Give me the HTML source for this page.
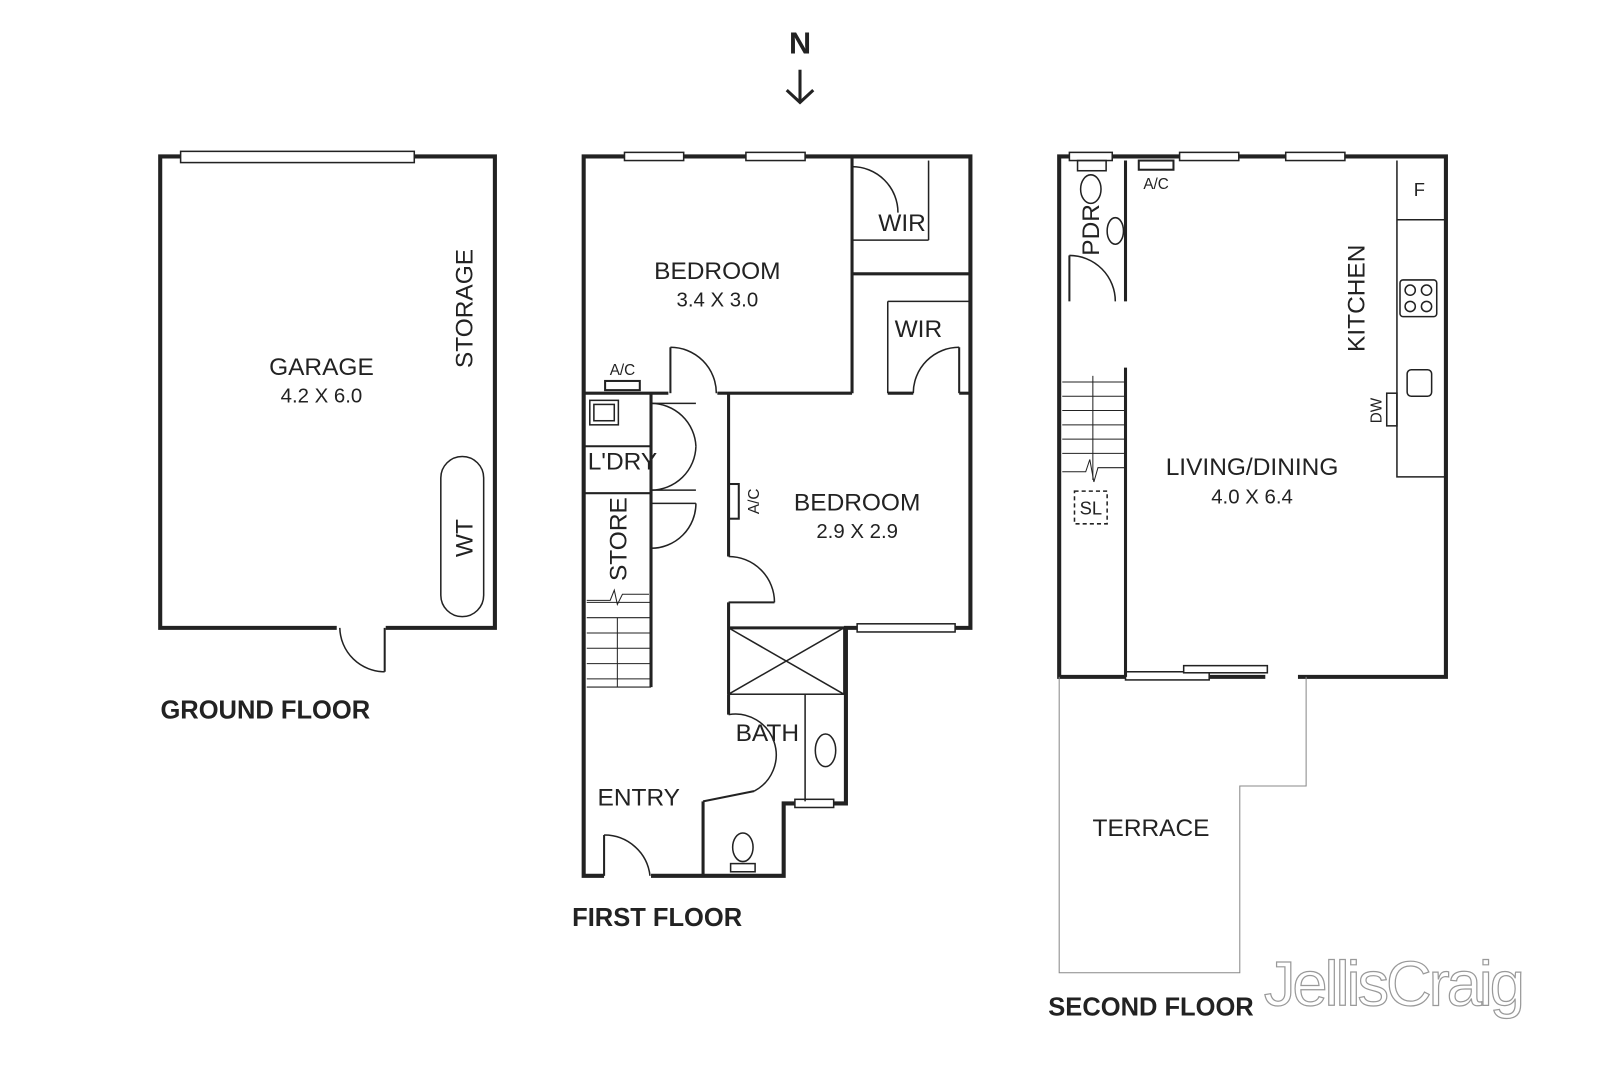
<!DOCTYPE html>
<html><head><meta charset="utf-8"><style>
html,body{margin:0;padding:0;background:#fff;width:1600px;height:1067px;overflow:hidden}
svg{display:block}
text{font-family:"Liberation Sans",sans-serif;fill:#222}
</style></head><body>
<svg width="1600" height="1067" viewBox="0 0 1568 1045" xmlns="http://www.w3.org/2000/svg">
<g fill="none" stroke="#222" stroke-width="1.5">
<line x1="784" y1="68" x2="784" y2="100" stroke-width="3"/>
<polyline points="771,88 784,100 797,88" stroke-width="3"/>

<polyline points="330,615 157,615 157,153 485,153 485,615 378,615" stroke-width="4"/>
<rect x="177" y="148" width="229" height="11" fill="#fff"/>
<line x1="377" y1="615" x2="377" y2="658" stroke-width="2"/>
<path d="M333,615 A44,44 0 0 0 377,658"/>
<rect x="432" y="447" width="42" height="157" rx="21"/>

<polyline points="592,858 572,858 572,153 951,153 951,615 829,615 829,787 768,787 768,858 638,858" stroke-width="4"/>
<rect x="612" y="149" width="58" height="8" fill="#fff"/>
<rect x="731" y="149" width="58" height="8" fill="#fff"/>
<rect x="840" y="611" width="96" height="8" fill="#fff"/>
<rect x="779" y="783" width="38" height="8" fill="#fff"/>
<line x1="835" y1="153" x2="835" y2="385" stroke-width="3"/>
<line x1="835" y1="268" x2="951" y2="268" stroke-width="3"/>
<line x1="835" y1="235" x2="910" y2="235"/><line x1="910" y1="157" x2="910" y2="235"/>
<path d="M835,163 A45,45 0 0 1 880,208"/>
<line x1="870" y1="295" x2="951" y2="295"/><line x1="870" y1="295" x2="870" y2="385"/>
<path d="M895,385 A45,45 0 0 1 940,340"/><line x1="940" y1="340" x2="940" y2="385" stroke-width="2"/>
<line x1="572" y1="385" x2="655" y2="385" stroke-width="3"/>
<line x1="703" y1="385" x2="835" y2="385" stroke-width="3"/>
<line x1="870" y1="385" x2="895" y2="385" stroke-width="3"/>
<line x1="940" y1="385" x2="951" y2="385" stroke-width="3"/>
<line x1="657" y1="340" x2="657" y2="385" stroke-width="2"/>
<path d="M657,340 A45,45 0 0 1 702,385"/>
<rect x="593" y="373" width="34" height="9" stroke-width="2"/>
<line x1="714" y1="385" x2="714" y2="545" stroke-width="3"/>
<line x1="714" y1="590" x2="714" y2="680" stroke-width="3"/>
<path d="M714,545 A45,45 0 0 1 759,590" /><line x1="714" y1="590" x2="759" y2="590" stroke-width="2"/>
<rect x="714" y="474" width="10" height="34" stroke-width="2"/>
<line x1="638" y1="385" x2="638" y2="673" stroke-width="3"/>
<rect x="578" y="392" width="28" height="24"/>
<rect x="582" y="396" width="20" height="16"/>
<line x1="572" y1="437" x2="638" y2="437" stroke-width="2"/>
<line x1="572" y1="483" x2="638" y2="483" stroke-width="2"/>
<line x1="638" y1="395" x2="682" y2="395"/><path d="M638,395 A44,44 0 0 1 682,437"/>
<line x1="638" y1="480" x2="682" y2="480"/><path d="M682,437 A44,44 0 0 1 638,480"/>
<line x1="638" y1="493" x2="682" y2="493"/><path d="M682,493 A44,44 0 0 1 638,537"/>
<g stroke-width="1">
<line x1="575" y1="605" x2="638" y2="605"/><line x1="575" y1="620" x2="638" y2="620"/>
<line x1="575" y1="635" x2="638" y2="635"/><line x1="575" y1="650" x2="638" y2="650"/>
<line x1="575" y1="665" x2="638" y2="665"/><line x1="575" y1="673" x2="638" y2="673"/>
<line x1="575" y1="590" x2="638" y2="590"/>
<line x1="605" y1="605" x2="605" y2="673"/>
<polyline points="575,588 598,588 602,578 605,592 610,582 636,582"/>
</g>
<line x1="714" y1="615" x2="829" y2="615" stroke-width="3"/>
<rect x="714" y="615" width="113" height="65"/>
<line x1="714" y1="615" x2="827" y2="680"/><line x1="827" y1="615" x2="714" y2="680"/>
<line x1="789" y1="680" x2="789" y2="785"/>
<ellipse cx="809" cy="735" rx="10" ry="16"/>
<line x1="714" y1="680" x2="714" y2="700" stroke-width="3"/>
<path d="M714,700 A40,40 0 0 1 739,775"/>
<line x1="739" y1="775" x2="689" y2="785" stroke-width="2"/>
<line x1="689" y1="785" x2="689" y2="858" stroke-width="3"/>
<ellipse cx="728" cy="830" rx="10" ry="14"/>
<rect x="716" y="846" width="24" height="8"/>
<line x1="592" y1="818" x2="592" y2="858" stroke-width="2"/>
<path d="M592,818 A45,45 0 0 1 637,858"/>

<polyline points="1103,663 1038,663 1038,153 1417,153 1417,663 1272,663" stroke-width="4"/>
<line x1="1185" y1="663" x2="1240" y2="663" stroke-width="4"/>
<rect x="1103" y="658" width="82" height="8" fill="#fff"/>
<rect x="1160" y="652" width="82" height="7" fill="#fff"/>
<rect x="1048" y="149" width="42" height="8" fill="#fff"/>
<rect x="1156" y="149" width="58" height="8" fill="#fff"/>
<rect x="1260" y="149" width="58" height="8" fill="#fff"/>
<rect x="1116" y="157" width="34" height="9" stroke-width="2"/>
<line x1="1103" y1="157" x2="1103" y2="295" stroke-width="3"/>
<line x1="1103" y1="360" x2="1103" y2="663" stroke-width="3"/>
<line x1="1048" y1="250" x2="1048" y2="295" stroke-width="2"/>
<path d="M1048,250 A45,45 0 0 1 1093,295"/>
<ellipse cx="1069" cy="185" rx="10" ry="14"/><rect x="1056" y="157" width="28" height="10"/>
<ellipse cx="1093" cy="226" rx="8" ry="13"/>
<g stroke-width="1">
<line x1="1041" y1="374" x2="1103" y2="374"/><line x1="1041" y1="388" x2="1103" y2="388"/>
<line x1="1041" y1="402" x2="1103" y2="402"/><line x1="1041" y1="416" x2="1103" y2="416"/>
<line x1="1041" y1="430" x2="1103" y2="430"/><line x1="1041" y1="444" x2="1103" y2="444"/>
<line x1="1071" y1="368" x2="1071" y2="470"/>
<polyline points="1041,462 1064,462 1068,450 1072,472 1076,458 1103,458"/>
</g>
<rect x="1053" y="481" width="32" height="32" stroke-dasharray="4,3"/>
<polyline points="1369,157 1369,467 1417,467" stroke-width="1.5"/>
<line x1="1369" y1="215" x2="1417" y2="215"/>
<rect x="1372" y="274" width="36" height="36" rx="3"/>
<circle cx="1382" cy="284" r="5"/><circle cx="1398" cy="284" r="5"/>
<circle cx="1382" cy="300" r="5"/><circle cx="1398" cy="300" r="5"/>
<rect x="1379" y="362" width="24" height="26" rx="4"/>
<rect x="1359" y="385" width="10" height="32"/>
<polyline points="1038,663 1038,953 1215,953 1215,770 1280,770 1280,663" stroke="#888" stroke-width="1"/>
</g>

<g font-size="24" text-anchor="middle">
<text x="784" y="52" font-size="30" font-weight="bold">N</text>
<text x="315" y="367">GARAGE</text>
<text x="315" y="394" font-size="20">4.2 X 6.0</text>
<text x="0" y="0" transform="translate(463,302) rotate(-90)">STORAGE</text>
<text x="0" y="0" transform="translate(463,527) rotate(-90)">WT</text>
<text x="260" y="704" font-weight="bold" font-size="25">GROUND FLOOR</text>
<text x="703" y="273">BEDROOM</text>
<text x="703" y="300" font-size="20">3.4 X 3.0</text>
<text x="884" y="226">WIR</text>
<text x="900" y="330">WIR</text>
<text x="610" y="367" font-size="15">A/C</text>
<text x="610" y="460">L'DRY</text>
<text x="0" y="0" transform="translate(614,528) rotate(-90)">STORE</text>
<text x="0" y="0" transform="translate(744,491) rotate(-90)" font-size="15">A/C</text>
<text x="840" y="500">BEDROOM</text>
<text x="840" y="527" font-size="20">2.9 X 2.9</text>
<text x="752" y="726">BATH</text>
<text x="626" y="789">ENTRY</text>
<text x="644" y="907" font-weight="bold" font-size="25">FIRST FLOOR</text>
<text x="0" y="0" transform="translate(1077,225) rotate(-90)">PDR</text>
<text x="1133" y="185" font-size="15">A/C</text>
<text x="1391" y="192" font-size="18">F</text>
<text x="0" y="0" transform="translate(1337,292) rotate(-90)">KITCHEN</text>
<text x="0" y="0" transform="translate(1354,402) rotate(-90)" font-size="15">DW</text>
<text x="1227" y="465">LIVING/DINING</text>
<text x="1227" y="493" font-size="20">4.0 X 6.4</text>
<text x="1069" y="504" font-size="18">SL</text>
<text x="1128" y="819">TERRACE</text>
<text x="1128" y="995" font-weight="bold" font-size="25">SECOND FLOOR</text>
<text x="1365" y="985" font-size="62" font-family="Liberation Serif" style="fill:#fff;stroke:#999;stroke-width:1.2" letter-spacing="-3">JellisCraig</text>
</g>
</svg>
</body></html>
